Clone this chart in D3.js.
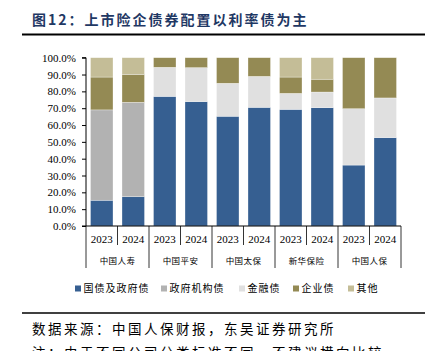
<!DOCTYPE html>
<html><head><meta charset="utf-8">
<script src="https://cdn.jsdelivr.net/npm/d3@7"></script>
<style>
html,body{margin:0;padding:0;background:#fff;}
svg{display:block;}
</style></head>
<body>
<svg id="c" width="436" height="351"></svg>
<script>
const companies = ["中国人寿","中国平安","中国太保","新华保险","中国人保"];
const years = ["2023","2024"];
const seriesNames = ["国债及政府债","政府机构债","金融债","企业债","其他"];
const seriesColors = ["#365F91","#B2B2B2","#E0E0E0","#948A54","#C4BD97"];
// values per bar (company-year order), %
const govBonds    = [15.3, 17.4, 77.0, 73.9, 65.2, 70.5, 69.3, 70.3, 36.2, 52.5];
const agencyBonds = [53.7, 56.1,  0.0,  0.0,  0.0,  0.0,  0.0,  0.0,  0.0,  0.0];
const finBonds    = [ 0.0,  0.0, 17.3, 20.2, 19.6, 18.4,  9.5,  9.3, 33.5, 23.6];
const corpBonds   = [19.5, 16.6,  5.7,  5.9, 15.2, 11.1,  9.7,  7.6, 30.3, 23.9];
const otherBonds  = [11.5,  9.9,  0.0,  0.0,  0.0,  0.0, 11.5, 12.8,  0.0,  0.0];
const yTickLabels = ["0.0%","10.0%","20.0%","30.0%","40.0%","50.0%","60.0%","70.0%","80.0%","90.0%","100.0%"];
const titleText = "图12：上市险企债券配置以利率债为主";
const sourceText = "数据来源：中国人保财报，东吴证券研究所";
const noteText = "注：由于不同公司分类标准不同，不建议横向比较";

(function(){
const svg = d3.select("#c");
const serif = "'Liberation Serif','Times New Roman',serif";
const cjk = "'Noto Sans CJK SC','Noto Sans',sans-serif";

// title
svg.append("text").attr("x",32).attr("y",25)
  .attr("font-family",cjk).attr("font-weight",700).attr("font-size",14)
  .attr("letter-spacing",2).attr("fill","#1F3864").text(titleText);
svg.append("line").attr("x1",22).attr("x2",425).attr("y1",34.5).attr("y2",34.5)
  .attr("stroke","#000").attr("stroke-width",2);

const bars = [];
companies.forEach((c,i)=>years.forEach((y,j)=>bars.push({key:c+"|"+y,company:c,year:y,idx:i*2+j})));
const seriesData = [govBonds,agencyBonds,finBonds,corpBonds,otherBonds];
const rows = bars.map(b=>{const r={key:b.key}; seriesNames.forEach((s,k)=>r[s]=seriesData[k][b.idx]); return r;});
const stacked = d3.stack().keys(seriesNames)(rows);

const pL=86, pR=401, pT=57.7, pB=226;
const x = d3.scaleBand().domain(bars.map(b=>b.key)).range([pL,pR]).paddingInner(0.286).paddingOuter(0.143);
const y = d3.scaleLinear().domain([0,100]).range([pB,pT]);

const g = svg.append("g");
stacked.forEach((layer,k)=>{
  g.selectAll(null).data(layer).enter().append("rect")
    .attr("x",d=>x(d.data.key)).attr("width",x.bandwidth())
    .attr("y",d=>y(d[1])).attr("height",d=>Math.max(0,y(d[0])-y(d[1])))
    .attr("fill",seriesColors[k])
    .attr("stroke",d=>(d[1]-d[0])>0?"#fff":"none").attr("stroke-opacity",0.5).attr("stroke-width",0.6);
});

// y axis
const yAxis = d3.axisLeft(y).tickValues(d3.range(0,101,10)).tickFormat((d,i)=>yTickLabels[i]).tickSize(4).tickPadding(6);
const ya = svg.append("g").attr("transform",`translate(${pL},0)`).call(yAxis);
ya.select(".domain").attr("stroke","#000").attr("d",`M-4,${pT}H0V${pB}H-4`);
ya.selectAll(".tick line").attr("stroke","#000");
ya.selectAll("text").attr("font-family",serif).attr("font-size",11).attr("fill","#000");

// x axis line
svg.append("line").attr("x1",pL).attr("x2",pR).attr("y1",pB).attr("y2",pB).attr("stroke","#000");
const step = x.step();
companies.forEach((c,i)=>{
  const xm = pL + step*(i*2+1);
  svg.append("line").attr("x1",xm).attr("x2",xm).attr("y1",pB).attr("y2",245).attr("stroke","#000").attr("stroke-width",0.8);
});
d3.range(companies.length+1).forEach(i=>{
  const xs = pL + step*2*i;
  svg.append("line").attr("x1",xs).attr("x2",xs).attr("y1",pB).attr("y2",268).attr("stroke","#000").attr("stroke-width",0.8);
});
svg.selectAll(null).data(bars).enter().append("text")
  .attr("x",d=>x(d.key)+x.bandwidth()/2).attr("y",243).attr("text-anchor","middle")
  .attr("font-family",serif).attr("font-size",11).text(d=>d.year);
svg.selectAll(null).data(companies).enter().append("text")
  .attr("x",(d,i)=>pL+step*(2*i+1)).attr("y",264).attr("text-anchor","middle")
  .attr("font-family",cjk).attr("font-size",8.5).attr("letter-spacing",0.4).text(d=>d);

// legend
const legX = [75,161,239,293,348];
const lg = svg.append("g");
seriesNames.forEach((s,k)=>{
  lg.append("rect").attr("x",legX[k]).attr("y",285.5).attr("width",6).attr("height",6).attr("fill",seriesColors[k]);
  lg.append("text").attr("x",legX[k]+8.5).attr("y",292).attr("font-family",cjk).attr("font-size",10)
    .attr("letter-spacing",1).attr("fill","#000").text(s);
});

// bottom
svg.append("line").attr("x1",22).attr("x2",425).attr("y1",313).attr("y2",313).attr("stroke","#000").attr("stroke-width",1.5);
svg.append("text").attr("x",32).attr("y",334).attr("font-family",cjk).attr("font-size",13.5)
  .attr("letter-spacing",2.5).attr("fill","#000").text(sourceText);
svg.append("text").attr("x",32).attr("y",358).attr("font-family",cjk).attr("font-size",13.5)
  .attr("letter-spacing",2.5).attr("fill","#000").text(noteText);
})();
</script>
</body></html>
